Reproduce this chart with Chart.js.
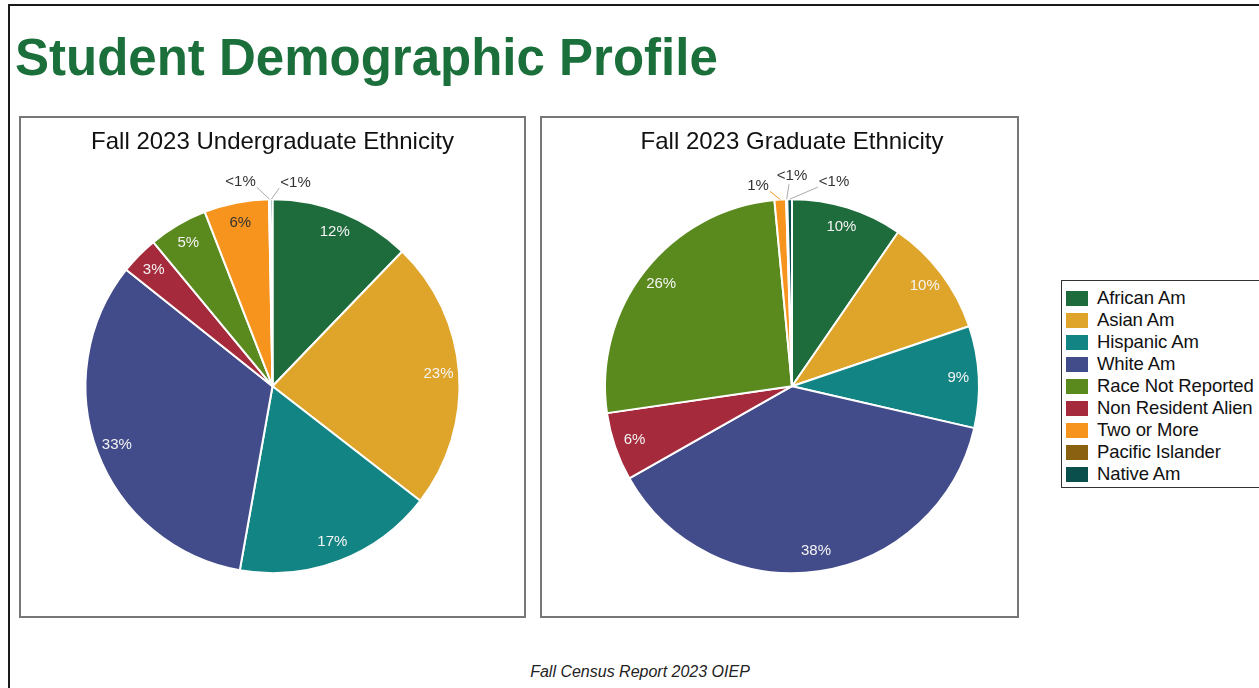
<!DOCTYPE html>
<html>
<head>
<meta charset="utf-8">
<script src="https://cdn.jsdelivr.net/npm/chart.js"></script>
<style>
  body { margin: 0; width: 1259px; height: 688px; overflow: hidden; background: #fff; position: relative;
         font-family: Arial, "Liberation Sans", sans-serif; }
  .frame-top { position: absolute; left: 8px; top: 4px; width: 1251px; height: 2px; background: #1a1a1a; }
  .frame-left { position: absolute; left: 8px; top: 4px; width: 2px; height: 684px; background: #1a1a1a; }
  h1 { position: absolute; left: 15px; top: 32px; margin: 0; font-size: 51px; line-height: 51px;
       font-weight: bold; color: #1a6f3a; white-space: nowrap; }
  .panel { position: absolute; top: 116px; height: 502px; border: 2px solid #777; box-sizing: border-box; }
  #legend { position: absolute; left: 1061px; top: 280px; width: 230px; height: 208px;
            border: 1.5px solid #333; box-sizing: border-box; padding-top: 6px; }
  .item { display: flex; align-items: center; height: 22px; white-space: nowrap; }
  .swatch { width: 22px; height: 15px; margin-left: 4px; margin-right: 9px; }
  .item span { font-size: 18.5px; color: #111; letter-spacing: -0.1px; }
  .footer { position: absolute; left: 0; width: 1280px; top: 664px; text-align: center;
            font-size: 16px; line-height: 16px; font-style: italic; color: #222; }
</style>
</head>
<body>
<div class="frame-top"></div>
<div class="frame-left"></div>
<h1>Student Demographic Profile</h1>

<div class="panel" style="left:19px;width:507px;">
  <canvas id="ugChart" width="503" height="498"></canvas>
</div>
<div class="panel" style="left:540px;width:479px;">
  <canvas id="gradChart" width="475" height="498"></canvas>
</div>
<div id="legend"></div>
<div class="footer">Fall Census Report 2023 OIEP</div>

<script>
// categories in the order the slices run (clockwise from the top)
const categories = ['African Am', 'Asian Am', 'Hispanic Am', 'White Am', 'Non Resident Alien',
                    'Race Not Reported', 'Two or More', 'Pacific Islander', 'Native Am'];
const colors = ['#1e6b3c', '#dea52a', '#138484', '#434c8a', '#a52a3c',
                '#5a8a1e', '#f7941d', '#8a6110', '#0b4f4d'];

// percent values
const undergradValues = [12.2, 23.3, 17.3, 32.9, 3.3, 5.1, 5.6, 0.1, 0.2];
const gradValues = [9.6, 10.2, 8.8, 38.2, 5.9, 25.8, 1.0, 0.1, 0.4];

// legend is listed in a different order than the slices
const legendOrder = ['African Am', 'Asian Am', 'Hispanic Am', 'White Am', 'Race Not Reported',
                     'Non Resident Alien', 'Two or More', 'Pacific Islander', 'Native Am'];

// build the legend box
const legendBox = document.getElementById('legend');
legendOrder.forEach(name => {
    const i = categories.indexOf(name);
    const row = document.createElement('div');
    row.className = 'item';
    row.innerHTML = '<div class="swatch" style="background:' + colors[i] + '"></div><span>' + name + '</span>';
    legendBox.appendChild(row);
});

function pctText(v) {
    return v < 1 ? '<1%' : Math.round(v) + '%';
}

// draws percentages inside slices, and small slices outside with a leader line
const sliceLabels = {
    id: 'sliceLabels',
    afterDatasetsDraw(chart, args, opts) {
        const ctx = chart.ctx;
        const meta = chart.getDatasetMeta(0);
        const values = chart.data.datasets[0].data;
        let k = 0;
        ctx.save();
        ctx.font = '15px Arial, "Liberation Sans", sans-serif';
        ctx.textAlign = 'center';
        ctx.textBaseline = 'middle';
        meta.data.forEach((arc, i) => {
            const v = values[i];
            const mid = (arc.startAngle + arc.endAngle) / 2;
            const r = arc.outerRadius;
            if (v >= 1.5) {
                ctx.fillStyle = categories[i] === 'Two or More' ? '#333' : '#f4f4f4';
                ctx.fillText(pctText(v), arc.x + Math.cos(mid) * r * 0.89, arc.y + Math.sin(mid) * r * 0.89);
            } else {
                const off = opts.outside[k++] || { dx: 0, dy: -20 };
                const tx = arc.x + off.dx;
                const ty = arc.y - r + off.dy;
                const txt = pctText(v);
                const w = ctx.measureText(txt).width;
                const sx = arc.x + Math.cos(mid) * r;
                const sy = arc.y + Math.sin(mid) * r;
                let ex, ey;
                if (Math.abs(off.dx) < 6) { ex = tx - 3; ey = ty + 8; }
                else { ex = tx - Math.sign(off.dx) * (w / 2 + 1); ey = ty + 5; }
                ctx.strokeStyle = v >= 1 ? colors[i] : '#aaa';
                ctx.lineWidth = 1;
                ctx.beginPath();
                ctx.moveTo(sx, sy);
                ctx.lineTo(ex, ey);
                ctx.stroke();
                ctx.fillStyle = '#333';
                ctx.fillText(txt, tx, ty);
            }
        });
        ctx.restore();
    }
};

function makePie(id, title, values, padLeft, outside) {
    const ctx = document.getElementById(id).getContext('2d');
    return new Chart(ctx, {
        type: 'pie',
        data: {
            labels: categories,
            datasets: [{
                data: values,
                backgroundColor: colors,
                borderColor: '#fff',
                borderWidth: 2,
                radius: 187
            }]
        },
        options: {
            responsive: false,
            animation: false,
            layout: { padding: { left: padLeft } },
            plugins: {
                legend: { display: false },
                tooltip: { enabled: false },
                title: {
                    display: true,
                    text: title,
                    color: '#111',
                    font: { size: 24, weight: 'normal', family: 'Arial, "Liberation Sans", sans-serif' },
                    padding: { top: 9.6, bottom: 0 }
                },
                sliceLabels: { outside: outside }
            }
        },
        plugins: [sliceLabels]
    });
}

makePie('ugChart', 'Fall 2023 Undergraduate Ethnicity', undergradValues, 0,
        [{ dx: -32, dy: -17 }, { dx: 23, dy: -16 }]);
makePie('gradChart', 'Fall 2023 Graduate Ethnicity', gradValues, 25,
        [{ dx: -34, dy: -13 }, { dx: 0, dy: -23 }, { dx: 42, dy: -17 }]);
</script>
</body>
</html>
